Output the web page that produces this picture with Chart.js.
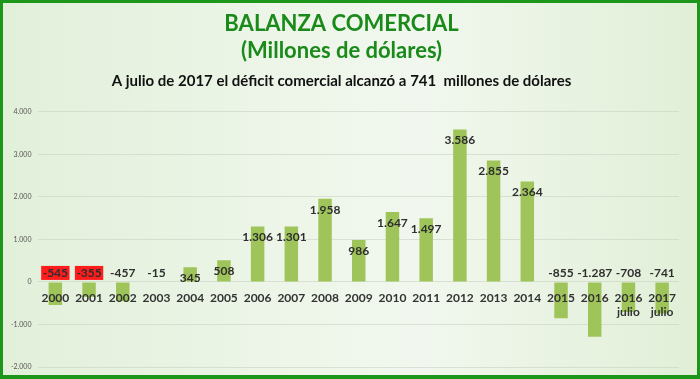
<!DOCTYPE html>
<html>
<head>
<meta charset="utf-8">
<script src="https://cdn.jsdelivr.net/npm/chart.js@4/dist/chart.umd.min.js"></script>
<style>
  html, body { margin: 0; padding: 0; width: 700px; height: 379px; overflow: hidden; }
  #frame {
    position: absolute; left: 0; top: 0; width: 700px; height: 379px; box-sizing: border-box;
    border: 3px solid #1c971c; border-bottom-width: 4px;
    background: linear-gradient(to right, #e2f0da 0%, #eef6ea 45%, #f1f7ee 60%, #e1efd7 100%);
  }
  #c { position: absolute; left: 0; top: 0; }
</style>
</head>
<body>
<div id="frame"></div>
<canvas id="c" width="700" height="379"></canvas>
<script>
const categories = ['2000','2001','2002','2003','2004','2005','2006','2007','2008','2009','2010','2011','2012','2013','2014','2015','2016',['2016','julio'],['2017','julio']];
const balanceValues = [-545,-355,-457,-15,345,508,1306,1301,1958,986,1647,1497,3586,2855,2364,-855,-1287,-708,-741];
const highlightedIndexes = [0, 1];
const titleLines = ['BALANZA COMERCIAL', '(Millones de dólares)'];
const subtitleText = 'A julio de 2017 el déficit comercial alcanzó a 741  millones de dólares';
const yMin = -2000, yMax = 4000, yStep = 1000;

function fmt(v) {
  const s = Math.abs(v).toString().replace(/\B(?=(\d{3})+(?!\d))/g, '.');
  return (v < 0 ? '-' : '') + s;
}

const valueLabels = {
  id: 'valueLabels',
  afterDatasetsDraw(chart) {
    const ctx = chart.ctx;
    const meta = chart.getDatasetMeta(0);
    const y0 = chart.scales.y.getPixelForValue(0);
    ctx.save();
    ctx.font = 'bold 12px Lato, "Open Sans", sans-serif';
    ctx.textAlign = 'center';
    ctx.textBaseline = 'middle';
    meta.data.forEach((el, i) => {
      const v = balanceValues[i];
      const text = fmt(v);
      const ty = v >= 0 ? el.y + 11 : y0 - 9;
      if (highlightedIndexes.includes(i)) {
        const w = ctx.measureText(text).width + 3;
        ctx.fillStyle = '#ff1c1c';
        ctx.fillRect(el.x - w / 2, ty - 7, w, 14);
      }
      ctx.fillStyle = '#2e2e2e';
      ctx.fillText(text, el.x, ty);
    });
    ctx.restore();
  }
};

new Chart(document.getElementById('c'), {
  type: 'bar',
  data: {
    labels: categories,
    datasets: [{
      data: balanceValues,
      backgroundColor: '#9fc55a',
      barPercentage: 0.8,
      categoryPercentage: 0.5
    }]
  },
  options: {
    responsive: false,
    animation: false,
    layout: { padding: { left: 4, right: 21, top: 0, bottom: 12 } },
    plugins: {
      legend: { display: false },
      tooltip: { enabled: false },
      title: {
        display: true,
        text: titleLines,
        color: '#1a8a1a',
        font: { family: 'Lato, "Open Sans", sans-serif', size: 22, weight: 'bold', lineHeight: 1.2 },
        padding: { top: 11, bottom: 8 }
      },
      subtitle: {
        display: true,
        text: subtitleText,
        color: '#111',
        font: { family: 'Lato, "Open Sans", sans-serif', size: 15, weight: 'bold', lineHeight: 1.2 },
        padding: { top: 0, bottom: 22 }
      }
    },
    scales: {
      x: {
        position: { y: 0 },
        grid: { display: false, drawTicks: false },
        border: { display: false },
        ticks: {
          z: 1,
          color: '#333',
          font: { family: 'Lato, "Open Sans", sans-serif', size: 12, weight: 'bold', lineHeight: 1.2 },
          padding: 9,
          maxRotation: 0,
          autoSkip: false
        }
      },
      y: {
        min: yMin,
        max: yMax,
        grid: { color: 'rgba(200,210,195,0.6)', drawTicks: false },
        border: { display: false },
        ticks: {
          stepSize: yStep,
          color: '#555',
          font: { family: 'Lato, sans-serif', size: 7 },
          padding: 7,
          callback: v => fmt(v)
        }
      }
    }
  },
  plugins: [valueLabels]
});
</script>
</body>
</html>
